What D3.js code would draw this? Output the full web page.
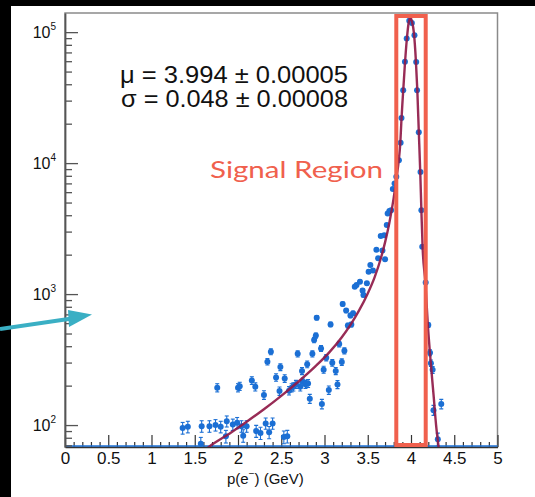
<!DOCTYPE html>
<html>
<head>
<meta charset="utf-8">
<script src="https://cdn.jsdelivr.net/npm/d3@7"></script>
<style>
  html, body { margin: 0; padding: 0; background: #000; }
  svg { display: block; }
</style>
</head>
<body>
<svg id="chart" width="535" height="497"></svg>
<script>
// Electron momentum spectrum: bin centres (GeV) and entries per bin
const binCenters = [
  1.36, 1.42, 1.57, 1.58, 1.67, 1.74, 1.76, 1.80, 1.86, 1.87, 1.94, 1.99, 2.00, 2.02, 2.04, 2.06,
  2.10, 2.16, 2.20, 2.21, 2.26, 2.30, 2.32, 2.34, 2.36, 2.38, 2.40, 2.44, 2.48, 2.49, 2.53, 2.54,
  2.57, 2.59, 2.62, 2.64, 2.67, 2.69, 2.72, 2.74, 2.75, 2.78, 2.80, 2.81, 2.83, 2.86, 2.88, 2.90,
  2.91, 2.96, 2.97, 2.99, 3.02, 3.05, 3.07, 3.09, 3.13, 3.15, 3.17, 3.20, 3.21, 3.23, 3.25, 3.27,
  3.30, 3.31, 3.33, 3.35, 3.37, 3.41, 3.44, 3.45, 3.49, 3.51, 3.53, 3.56, 3.60, 3.62, 3.65, 3.67,
  3.69, 3.70, 3.72, 3.73, 3.75, 3.77, 3.79, 3.81, 3.83, 3.86, 3.88, 3.89, 3.91, 3.93, 3.95, 3.98,
  4.01, 4.04, 4.06, 4.07, 4.09, 4.11, 4.12, 4.13, 4.17, 4.20, 4.22, 4.23, 4.25, 4.26, 4.31, 4.35
];
const binCounts = [
  95, 97, 72, 98, 98, 100, 193, 97, 82, 107, 101, 104, 193, 198, 98, 83,
  98, 219, 196, 90, 87, 170, 103, 305, 88, 363, 103, 231, 182, 277, 81, 227,
  82, 183, 193, 196, 205, 350, 196, 259, 214, 205, 291, 208, 159, 350, 446, 482,
  659, 385, 145, 265, 327, 185, 587, 299, 259, 204, 415, 303, 839, 369, 749, 575,
  686, 585, 713, 1140, 1171, 1243, 1067, 982, 1208, 1479, 1665, 1517, 2178, 1874, 2773, 2148,
  2818, 1841, 3366, 4130, 4303, 4374, 6340, 7000, 7858, 10500, 14290, 22130, 36050, 59330, 89520, 122400,
  117200, 94870, 59050, 36050, 17180, 8540, 4374, 2295, 1227, 580, 357, 297, 264, 130, 78, 145
];

// Fitted line shape, sampled along the momentum axis
const fitMomentum = [
  1.60, 1.70, 1.90, 2.10, 2.30, 2.50, 2.70, 2.90, 3.05, 3.20, 3.30, 3.40, 3.50, 3.58, 3.65,
  3.70, 3.75, 3.80, 3.83, 3.86, 3.876, 3.888, 3.900, 3.912, 3.928, 3.951, 3.974, 3.992,
  4.010, 4.034, 4.056, 4.073, 4.090, 4.107, 4.120, 4.134, 4.166, 4.195, 4.226, 4.261, 4.290,
  4.319, 4.340
];
const fitCounts = [
  63, 71, 86, 106, 132, 167, 215, 283, 356, 468, 582, 750, 1012, 1349, 1862,
  2483, 3508, 5433, 7499, 10715, 14125, 20417, 28184, 37584, 54954, 87096, 118850, 129420,
  121340, 98170, 61090, 36060, 17540, 8531, 4375, 2296, 1227, 579, 313, 169, 100,
  68, 52
];

const xTickValues = [0, 0.5, 1, 1.5, 2, 2.5, 3, 3.5, 4, 4.5, 5];
const xMinorValues = d3.range(0, 50).map(i => i / 10);
const yDecades = [1e2, 1e3, 1e4, 1e5];

const fitMu = "3.994", fitMuErr = "0.00005";
const fitSigma = "0.048", fitSigmaErr = "0.00008";
const signalWindow = [3.83, 4.17];

// ---- layout ----
const W = 535, H = 497;
const frame = { left: 65, right: 497.5, top: 13, bottom: 447 };
const pointBlue = "#1b6fd4";
const fitColor = "#8f1a48";
const accent = "#f0604d";

const svg = d3.select("#chart");

// page background: black border strip, white canvas
svg.append("rect").attr("width", W).attr("height", H).attr("fill", "#000");
svg.append("rect").attr("x", 11).attr("y", 6).attr("width", W - 11).attr("height", H - 6).attr("fill", "#fff");

const x = d3.scaleLinear().domain([0, 5]).range([frame.left, frame.right]);
const y = d3.scaleLog().domain([68, 1.4e5]).range([frame.bottom, frame.top]);

svg.append("defs").append("clipPath").attr("id", "plotClip")
  .append("rect")
  .attr("x", frame.left).attr("y", frame.top)
  .attr("width", frame.right - frame.left).attr("height", frame.bottom - frame.top);

// frame
svg.append("rect")
  .attr("x", frame.left).attr("y", frame.top)
  .attr("width", frame.right - frame.left).attr("height", frame.bottom - frame.top)
  .attr("fill", "none").attr("stroke", "#8a8a8a").attr("stroke-width", 1.5);

// ---- x axis (ticks drawn inward) ----
const xAxis = d3.axisBottom(x).tickValues(xTickValues)
  .tickSizeInner(-12).tickSizeOuter(0).tickPadding(5)
  .tickFormat(d3.format("~g"));
const gx = svg.append("g").attr("transform", `translate(0,${frame.bottom})`).call(xAxis);
gx.select(".domain").attr("stroke", "#333").attr("stroke-width", 1.5);
gx.selectAll(".tick line").attr("stroke", "#333").attr("stroke-width", 1.2);
gx.selectAll(".tick text")
  .attr("font-family", "Liberation Sans, Arial, sans-serif")
  .attr("font-size", 17).attr("fill", "#111");

const gxMinor = svg.append("g").attr("transform", `translate(0,${frame.bottom})`)
  .call(d3.axisBottom(x).tickValues(xMinorValues.filter(v => Math.abs(v * 2 - Math.round(v * 2)) > 1e-6))
    .tickSizeInner(-5).tickSizeOuter(0).tickFormat(""));
gxMinor.select(".domain").remove();
gxMinor.selectAll(".tick line").attr("stroke", "#333").attr("stroke-width", 1.2);

// empty bins sit on the lower edge
svg.append("line")
  .attr("x1", x(0)).attr("x2", x(5))
  .attr("y1", frame.bottom - 1).attr("y2", frame.bottom - 1)
  .attr("stroke", pointBlue).attr("stroke-width", 1.6);

// ---- y axis (log, ticks drawn inward) ----
const yAxis = d3.axisLeft(y).tickValues(yDecades)
  .tickSizeInner(-13).tickSizeOuter(0).tickPadding(9).tickFormat("");
const gy = svg.append("g").attr("transform", `translate(${frame.left},0)`).call(yAxis);
gy.select(".domain").attr("stroke", "#555").attr("stroke-width", 1.8);
gy.selectAll(".tick line").attr("stroke", "#555").attr("stroke-width", 1.3);
gy.selectAll(".tick text").each(function (d) {
  const t = d3.select(this)
    .attr("font-family", "Liberation Sans, Arial, sans-serif")
    .attr("fill", "#111").attr("dy", "0.55em");
  t.append("tspan").attr("font-size", 16).text("10");
  t.append("tspan").attr("font-size", 10).attr("dy", -8).text(Math.round(Math.log10(d)));
});

const yMinor = [];
[10, 100, 1000, 10000, 100000].forEach(dec => {
  for (let k = 2; k <= 9; k++) {
    const v = dec * k;
    if (v >= y.domain()[0] && v <= y.domain()[1]) yMinor.push(v);
  }
});
const gyMinor = svg.append("g").attr("transform", `translate(${frame.left},0)`)
  .call(d3.axisLeft(y).tickValues(yMinor).tickSizeInner(-7).tickSizeOuter(0).tickFormat(""));
gyMinor.select(".domain").remove();
gyMinor.selectAll(".tick line").attr("stroke", "#555").attr("stroke-width", 1.3);

// ---- data points with Poisson errors ----
const bins = binCenters.map((p, i) => ({ p, n: binCounts[i] }));
const plot = svg.append("g").attr("clip-path", "url(#plotClip)");

const errs = plot.append("g").attr("stroke", pointBlue).attr("stroke-width", 1.1);
bins.forEach(d => {
  const e = Math.sqrt(d.n);
  const cx = x(d.p), yLo = y(Math.max(d.n - e, 1)), yHi = y(d.n + e);
  errs.append("line").attr("x1", cx).attr("x2", cx).attr("y1", yLo).attr("y2", yHi);
  errs.append("line").attr("x1", cx - 2).attr("x2", cx + 2).attr("y1", yLo).attr("y2", yLo);
  errs.append("line").attr("x1", cx - 2).attr("x2", cx + 2).attr("y1", yHi).attr("y2", yHi);
});

plot.append("g").selectAll("circle").data(bins).join("circle")
  .attr("cx", d => x(d.p)).attr("cy", d => y(d.n))
  .attr("r", 3).attr("fill", pointBlue);

// ---- fitted curve ----
const fitPts = fitMomentum.map((p, i) => ({ p, n: fitCounts[i] }));
plot.append("path").datum(fitPts)
  .attr("d", d3.line().x(d => x(d.p)).y(d => y(d.n)).curve(d3.curveMonotoneX))
  .attr("fill", "none").attr("stroke", fitColor).attr("stroke-width", 2.4)
  .attr("stroke-opacity", 0.92);

// ---- signal window ----
svg.append("rect")
  .attr("x", x(signalWindow[0])).attr("y", frame.top + 3)
  .attr("width", x(signalWindow[1]) - x(signalWindow[0]))
  .attr("height", frame.bottom - frame.top - 5)
  .attr("fill", "none").attr("stroke", accent).attr("stroke-width", 4);

svg.append("text")
  .attr("x", 210).attr("y", 178)
  .attr("font-family", "Lato, 'Open Sans', sans-serif").attr("font-size", 24)
  .attr("textLength", 173).attr("lengthAdjust", "spacingAndGlyphs")
  .attr("fill", accent).text("Signal Region");

// ---- fit results ----
const statFont = "Liberation Sans, Arial, sans-serif";
svg.append("text").attr("x", 120).attr("y", 83)
  .attr("font-family", statFont).attr("font-size", 23)
  .attr("textLength", 228).attr("lengthAdjust", "spacingAndGlyphs").attr("fill", "#111")
  .text(`\u03bc = ${fitMu} \u00b1 ${fitMuErr}`);
svg.append("text").attr("x", 121).attr("y", 107)
  .attr("font-family", statFont).attr("font-size", 23)
  .attr("textLength", 227).attr("lengthAdjust", "spacingAndGlyphs").attr("fill", "#111")
  .text(`\u03c3 = ${fitSigma} \u00b1 ${fitSigmaErr}`);

// ---- x axis title ----
const xt = svg.append("text").attr("x", 227).attr("y", 484)
  .attr("font-family", statFont).attr("font-size", 15).attr("fill", "#111");
xt.append("tspan").text("p(e");
xt.append("tspan").attr("font-size", 10).attr("dy", -7).text("\u2212");
xt.append("tspan").attr("dy", 7).text(") (GeV)");

// ---- pointer arrow ----
const arrowColor = "#3aafc4";
svg.append("line").attr("x1", 0).attr("y1", 329).attr("x2", 72).attr("y2", 318.5)
  .attr("stroke", arrowColor).attr("stroke-width", 4);
svg.append("path")
  .attr("d", "M68,310 L92,314.5 L69,327 Z")
  .attr("fill", arrowColor);
</script>
</body>
</html>
